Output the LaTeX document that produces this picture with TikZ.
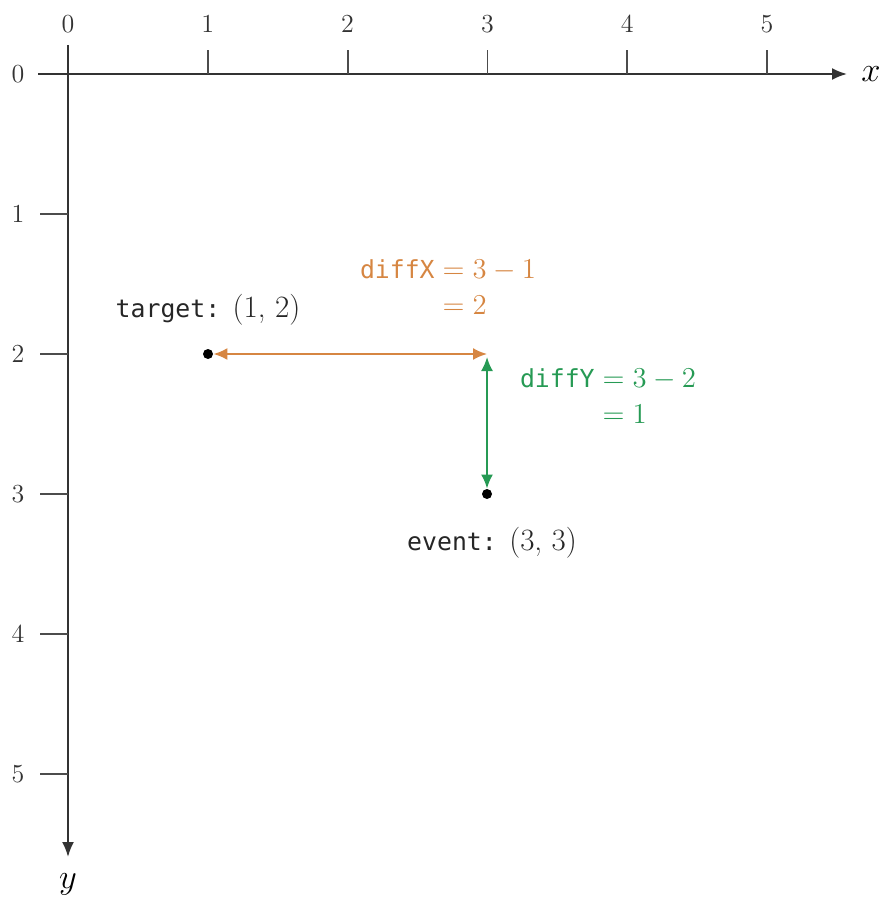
\documentclass[tikz,border=0pt]{standalone}
\usepackage{amsmath}
\usepackage{fontspec}
\setmonofont{DejaVu Sans Mono}[Scale=0.8]
\usetikzlibrary{arrows.meta}
\definecolor{dxorange}{RGB}{214,134,66}
\definecolor{dygreen}{RGB}{38,154,84}
\begin{document}
\begin{tikzpicture}[x=0.5pt,y=-0.5pt,
  axis/.style={line width=1pt,black!80,-{Latex[length=7.5pt,width=6pt]}},
  tick/.style={line width=0.9pt,black!70},
  ticklab/.style={font=\fontsize{13}{15}\selectfont,text=black!80},
  lab/.style={font=\fontsize{15.5}{18}\selectfont,text=black!85},
  dot/.style={circle,fill=black,inner sep=0pt,minimum size=5pt},
  dxarrow/.style={line width=1pt,dxorange,{Latex[length=7pt,width=6pt]}-{Latex[length=7pt,width=6pt]}},
  dyarrow/.style={line width=1pt,dygreen,{Latex[length=7pt,width=6pt]}-{Latex[length=7pt,width=6pt]}}]
\useasboundingbox (0,0) rectangle (883,898);
% axes
\coordinate (xs) at (38,74);
\coordinate (xe) at (847,74);
\coordinate (ys) at (68,45);
\coordinate (ye) at (68,857);
\draw[axis] (xs) -- (xe);
\draw[axis] (ys) -- (ye);
\node[font=\fontsize{17}{20}\selectfont] (xl) at (871,74) {$x$};
\node[font=\fontsize{17}{20}\selectfont] (yl) at (68,884) {$y$};
% x ticks
\foreach \i in {0,...,5}{
  \coordinate (xt\i) at ({68+139.8*\i},74);
  \coordinate (xu\i) at ({68+139.8*\i},50);
  \ifnum\i>0 \draw[tick] (xt\i) -- (xu\i);\fi
  \node[ticklab] (xn\i) at ({68+139.8*\i},24) {\i};
}
% y ticks
\foreach \i in {0,...,5}{
  \coordinate (yt\i) at (68,{74+140*\i});
  \coordinate (yu\i) at (40,{74+140*\i});
  \ifnum\i>0 \draw[tick] (yt\i) -- (yu\i);\fi
  \node[ticklab] (yn\i) at (18,{74+140*\i}) {\i};
}
% points
\node[dot] (target) at (208,354) {};
\node[dot] (event) at (487,494) {};
\coordinate (corner) at (487,354);
\coordinate (cornerb) at (487,357);
\draw[dxarrow] (target) -- (corner);
\draw[dyarrow] (cornerb) -- (event);
% labels
\node[lab] (tl) at (208,310) {\texttt{target:} (1, 2)};
\node[lab] (el) at (492,543) {\texttt{event:} (3, 3)};
\node[lab,text=dxorange] (dxl) at (448,289) {$\begin{aligned}\text{\texttt{diffX}} &= 3 - 1\\[-3pt] &= 2\end{aligned}$};
\node[lab,text=dygreen] (dyl) at (608,398) {$\begin{aligned}\text{\texttt{diffY}} &= 3 - 2\\[-3pt] &= 1\end{aligned}$};
\end{tikzpicture}
\end{document}
